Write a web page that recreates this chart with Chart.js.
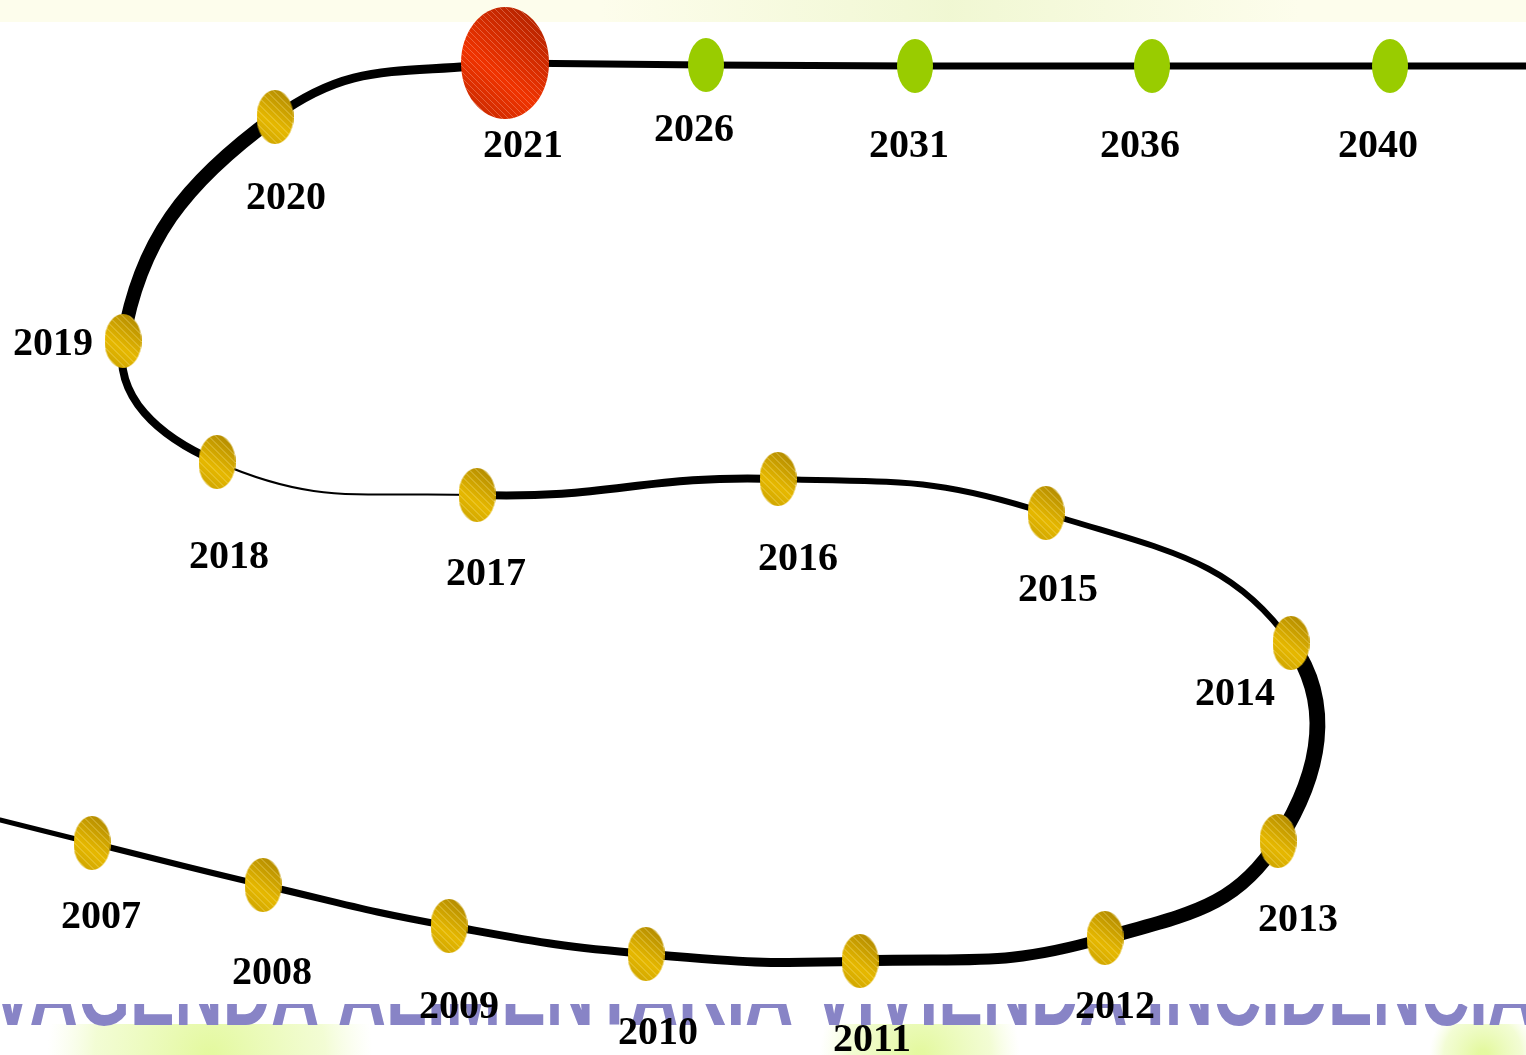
<!DOCTYPE html>
<html>
<head>
<meta charset="utf-8">
<script src="https://cdn.jsdelivr.net/npm/chart.js@4.4.1/dist/chart.umd.min.js"></script>
<style>
  html, body { margin: 0; padding: 0; background: #ffffff; overflow: hidden; }
  #wrap { width: 1526px; height: 1055px; }
</style>
</head>
<body>
<div id="wrap"><canvas id="lineaTiempo" width="1526" height="1055"></canvas></div>
<script>
// años del recorrido y su posicion en el plano (0..1526 x 0..1055)
const anios   = ['2007','2008','2009','2010','2011','2012','2013','2014','2015','2016','2017','2018','2019','2020','2021','2026','2031','2036','2040'];
const hitoX   = [92, 263, 449, 646, 860, 1105, 1278, 1291, 1046, 778, 477, 217, 123, 275, 505, 706, 915, 1152, 1390];
const hitoY   = [843, 885, 926, 954, 961, 938, 841, 643, 513, 479, 495, 462, 341, 117, 63, 65, 66, 66, 66];
const etiquetaX = [101, 272, 459, 658, 872, 1115, 1298, 1235, 1058, 798, 486, 229, 53, 286, 523, 694, 909, 1140, 1378];
const etiquetaY = [915, 971, 1005, 1031, 1038, 1005, 918, 692, 588, 557, 572, 555, 342, 196, 144, 128, 144, 144, 144];
const tipoHito = ['pasado','pasado','pasado','pasado','pasado','pasado','pasado','pasado','pasado','pasado','pasado','pasado','pasado','pasado','actual','futuro','futuro','futuro','futuro'];

// extremos del camino fuera de los hitos
const inicioCamino = { x: 0, y: 820 };
const finCamino = { x: 1526, y: 66 };
// grosor de cada tramo del camino recorrido (inicio -> 2021)
const grosorTramo = [5, 6, 7, 8, 9, 11, 14, 16, 6, 6, 8, 2, 8, 14, 9];
const grosorFuturo = 7;

function crearElipse(w, h, tipo) {
    const c = document.createElement('canvas');
    c.width = w; c.height = h;
    const g = c.getContext('2d');
    g.save();
    g.beginPath();
    g.ellipse(w / 2, h / 2, w / 2, h / 2, 0, 0, Math.PI * 2);
    g.clip();
    if (tipo === 'futuro') {
        g.fillStyle = '#99cc00';
        g.fillRect(0, 0, w, h);
    } else {
        const grad = g.createLinearGradient(0, h, w, 0);
        if (tipo === 'actual') {
            grad.addColorStop(0, '#c02800');
            grad.addColorStop(0.4, '#f03300');
            grad.addColorStop(1, '#a82000');
        } else {
            grad.addColorStop(0, '#c8a000');
            grad.addColorStop(0.4, '#e6b800');
            grad.addColorStop(1, '#a88200');
        }
        g.fillStyle = grad;
        g.fillRect(0, 0, w, h);
        g.strokeStyle = tipo === 'actual' ? 'rgba(255,190,170,0.35)' : 'rgba(255,240,160,0.45)';
        g.lineWidth = 1;
        const paso = tipo === 'actual' ? 6 : 7;
        for (let k = -h; k < w + h; k += paso) {
            g.beginPath();
            g.moveTo(k, 0);
            g.lineTo(k + h, h);
            g.stroke();
        }
    }
    g.restore();
    return c;
}

const estiloPasado = crearElipse(37, 54, 'pasado');
const estiloActual = crearElipse(88, 112, 'actual');
const estiloFuturo = crearElipse(36, 54, 'futuro');

const puntosHitos = anios.map((a, i) => ({ x: hitoX[i], y: hitoY[i] }));
const idxActual = tipoHito.indexOf('actual');
// el recorrido incluye el hito siguiente solo para orientar la curva al llegar a 2021
const puntosRecorrido = [inicioCamino].concat(puntosHitos.slice(0, idxActual + 2));
const puntosFuturo = puntosHitos.slice(idxActual).concat([finCamino]);
const estilosHitos = tipoHito.map(t => t === 'actual' ? estiloActual : (t === 'futuro' ? estiloFuturo : estiloPasado));

const fondo = {
    id: 'fondo',
    beforeDraw(chart) {
        const ctx = chart.ctx;
        const W = chart.width, H = chart.height;
        ctx.save();
        ctx.fillStyle = '#ffffff';
        ctx.fillRect(0, 0, W, H);
        // franja superior
        ctx.fillStyle = '#fdfdec';
        ctx.fillRect(0, 0, W, 22);
        const gs = ctx.createLinearGradient(600, 0, 1300, 0);
        gs.addColorStop(0, 'rgba(235,245,200,0)');
        gs.addColorStop(0.5, 'rgba(235,245,200,0.7)');
        gs.addColorStop(1, 'rgba(235,245,200,0)');
        ctx.fillStyle = gs;
        ctx.fillRect(600, 0, 700, 22);
        // manchas verdes inferiores
        const manchas = [[80, 340], [840, 1000], [1440, 1526]];
        manchas.forEach(m => {
            const gm = ctx.createRadialGradient((m[0] + m[1]) / 2, 1055, 5, (m[0] + m[1]) / 2, 1055, (m[1] - m[0]) / 1.6);
            gm.addColorStop(0, 'rgba(225,248,150,0.9)');
            gm.addColorStop(0.7, 'rgba(230,250,170,0.5)');
            gm.addColorStop(1, 'rgba(240,252,200,0)');
            ctx.fillStyle = gm;
            ctx.fillRect(m[0] - 40, 1024, m[1] - m[0] + 80, 31);
        });
        // letras recortadas de fondo
        ctx.beginPath();
        ctx.rect(0, 1004, W, 22);
        ctx.clip();
        ctx.fillStyle = '#8884c6';
        ctx.font = 'bold 96px "Liberation Sans", Arial, sans-serif';
        ctx.textBaseline = 'alphabetic';
        const texto = 'VAGENDA ALIMENTARIA VIVIENDA INCIDENCIA';
        const ancho = ctx.measureText(texto).width;
        ctx.translate(-10, 1025);
        ctx.scale((W + 20) / ancho, 1);
        ctx.fillText(texto, 0, 0);
        ctx.restore();
    }
};

const rotulos = {
    id: 'rotulos',
    afterDatasetsDraw(chart) {
        const ctx = chart.ctx;
        const sx = chart.scales.x, sy = chart.scales.y;
        ctx.save();
        ctx.fillStyle = '#000000';
        ctx.font = 'bold 40px "Liberation Serif", "Times New Roman", serif';
        ctx.textAlign = 'center';
        ctx.textBaseline = 'middle';
        anios.forEach((a, i) => {
            ctx.fillText(a, sx.getPixelForValue(etiquetaX[i]), sy.getPixelForValue(etiquetaY[i]) + 3);
        });
        ctx.restore();
    }
};

const ctx = document.getElementById('lineaTiempo').getContext('2d');
const chartLinea = new Chart(ctx, {
    type: 'scatter',
    data: {
        datasets: [
            {
                label: 'Hitos',
                data: puntosHitos,
                pointStyle: estilosHitos,
                pointRadius: 20,
                showLine: false,
                order: 1
            },
            {
                label: 'Recorrido',
                data: puntosRecorrido,
                showLine: true,
                borderColor: '#000000',
                borderWidth: 7,
                tension: 0.45,
                pointRadius: 0,
                borderCapStyle: 'round',
                borderJoinStyle: 'round',
                segment: {
                    borderWidth: c => grosorTramo[c.p0DataIndex] || grosorFuturo,
                    borderColor: c => c.p0DataIndex < grosorTramo.length ? '#000000' : 'rgba(0,0,0,0)'
                },
                order: 2
            },
            {
                label: 'Futuro',
                data: puntosFuturo,
                showLine: true,
                borderColor: '#000000',
                borderWidth: grosorFuturo,
                tension: 0,
                pointRadius: 0,
                order: 3
            }
        ]
    },
    options: {
        responsive: false,
        devicePixelRatio: 1,
        animation: false,
        layout: { padding: 0, autoPadding: false },
        plugins: {
            legend: { display: false },
            tooltip: { enabled: false },
            title: { display: false }
        },
        scales: {
            x: { type: 'linear', min: 0, max: 1526, display: false },
            y: { type: 'linear', min: 0, max: 1055, reverse: true, display: false }
        }
    },
    plugins: [fondo, rotulos]
});
</script>
</body>
</html>
